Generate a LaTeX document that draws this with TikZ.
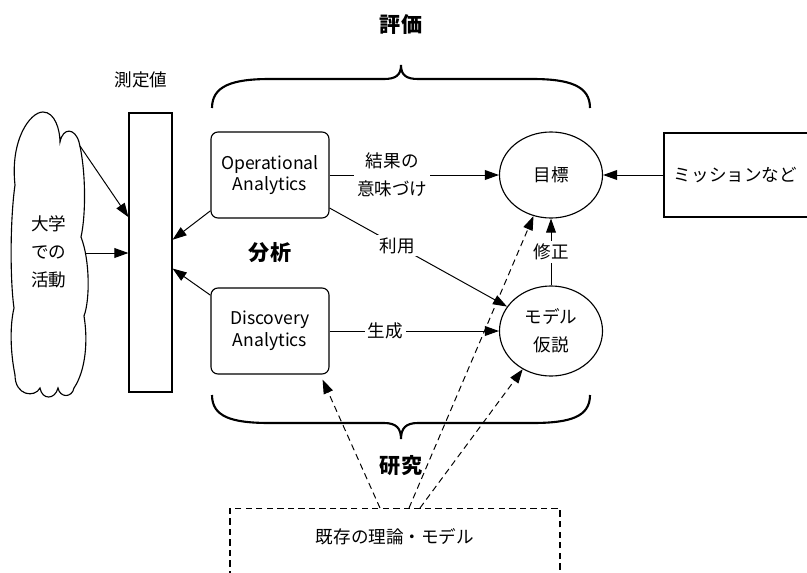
\documentclass[tikz,border=0pt]{standalone}
\usepackage{fontspec}
\setmainfont{Noto Sans CJK JP}
\usetikzlibrary{arrows.meta,shapes.geometric,calc}

\begin{document}
\begin{tikzpicture}[x=0.025cm, y=-0.025cm,
  >={Triangle[length=10pt,width=7pt]},
  font=\fontsize{12.5}{20}\selectfont,
  box/.style={draw, line width=0.8pt, rounded corners=5pt, minimum width=2.95cm,
    minimum height=2.15cm, align=center, font=\fontsize{12.5}{15.5}\selectfont},
  goalell/.style={draw, line width=0.8pt, ellipse, minimum width=2.575cm,
    minimum height=2.15cm, align=center},
  tag/.style={font=\fontsize{15}{18}\selectfont\bfseries},
  lbl/.style={fill=white, align=center, inner sep=2pt},
  link/.style={->, line width=0.7pt},
  hint/.style={->, dash pattern=on 4.5pt off 3pt, line width=0.7pt},
  brc/.style={line width=1.5pt}]

\useasboundingbox (0,0) rectangle (807,572);

%------------------ LEFT: ACTIVITIES AND MEASUREMENT ------------------%
\draw[line width=0.8pt] (15,185)
  .. controls (10,140) and (30,112) .. (43,112)
  .. controls (55,112) and (60,130) .. (60,142)
  .. controls (63,127) and (75,128) .. (79,142)
  .. controls (86,170) and (86,215) .. (81,237)
  .. controls (90,260) and (90,300) .. (84,316)
  .. controls (88,340) and (86,370) .. (74,388)
  .. controls (72,398) and (60,398) .. (58,388)
  .. controls (55,400) and (42,400) .. (40,388)
  .. controls (35,398) and (15,396) .. (15,375)
  .. controls (10,350) and (10,325) .. (14,308)
  .. controls (10,280) and (10,220) .. (15,185) -- cycle;
\node[align=center] (act) at (49,252) {大学\\での\\活動};
\coordinate (cloudtop) at (80,146);
\coordinate (cloudside) at (86,253);

\node[draw, line width=0.8pt, minimum width=1.075cm, minimum height=6.975cm]
  (bar) at (150.5,252.5) {};
\node (barlbl) at (141,80) {測定値};

%------------------ MIDDLE: ANALYTICS ------------------%
\node[box] (op) at (270,175) {Operational\\Analytics};
\node[box] (disc) at (270,331) {Discovery\\Analytics};
\node[tag] (ana) at (270,253) {分析};

\draw[brc] (212,108) .. controls (212,86) and (232,79) .. (270,79) -- (384,79)
  .. controls (396,79) and (401,75) .. (401,65)
  .. controls (401,75) and (406,79) .. (418,79) -- (532,79)
  .. controls (570,79) and (590,86) .. (590,108);
\node[tag] (eval) at (401,25) {評価};

\draw[brc] (212,395) .. controls (212,417) and (232,423) .. (270,423) -- (384,423)
  .. controls (396,423) and (401,428) .. (401,439)
  .. controls (401,428) and (406,423) .. (418,423) -- (532,423)
  .. controls (570,423) and (590,417) .. (590,395);
\node[tag] (res) at (401,466) {研究};

%------------------ RIGHT: GOALS AND MODELS ------------------%
\node[goalell] (goal) at (551,175) {目標};
\node[goalell, minimum height=2.25cm] (model) at (551,331) {モデル\\仮説};
\node[draw, line width=0.8pt, minimum height=2.1cm, text width=4.6cm,
  inner xsep=0.25cm, align=left] (miss) at (766,175) {ミッションなど};

%------------------ BOTTOM: PRIOR THEORY ------------------%
\node[draw, dash pattern=on 4.5pt off 3pt, line width=0.8pt, minimum width=8.25cm,
  minimum height=2.5cm, anchor=north] (prior) at (395,508) {};
\node (priortxt) at (395,537) {既存の理論・モデル};

%------------------ CONNECTORS ------------------%
\draw[link] (cloudtop) -- (bar.122);
\draw[link] (cloudside) -- (cloudside -| bar.west);
\draw[link] (op.-149) -- (bar.30);
\draw[link] (disc.149) -- (bar.-36);

\draw[link] (op.east) -- node[lbl, pos=0.37] {結果の\\意味づけ} (goal.west);
\draw[link] (op.-29) -- node[lbl, pos=0.38] {利用} (model);
\draw[link] (disc.east) -- node[lbl, pos=0.33] {生成} (model.west);
\draw[link] (model) -- node[lbl, midway] {修正} (goal);
\draw[link] (miss.west) -- (goal.east);

\coordinate (p1) at ($(prior.north)+(-15,0)$);
\coordinate (p2) at ($(prior.north)+(14,0)$);
\coordinate (p3) at ($(prior.north)+(25,0)$);
\coordinate (discin) at ($(disc.south east)+(-7,5)$);
\draw[hint] (p1) -- (discin);
\draw[hint] (p2) -- (goal);
\draw[hint] (p3) -- (model);

\end{tikzpicture}
\end{document}
